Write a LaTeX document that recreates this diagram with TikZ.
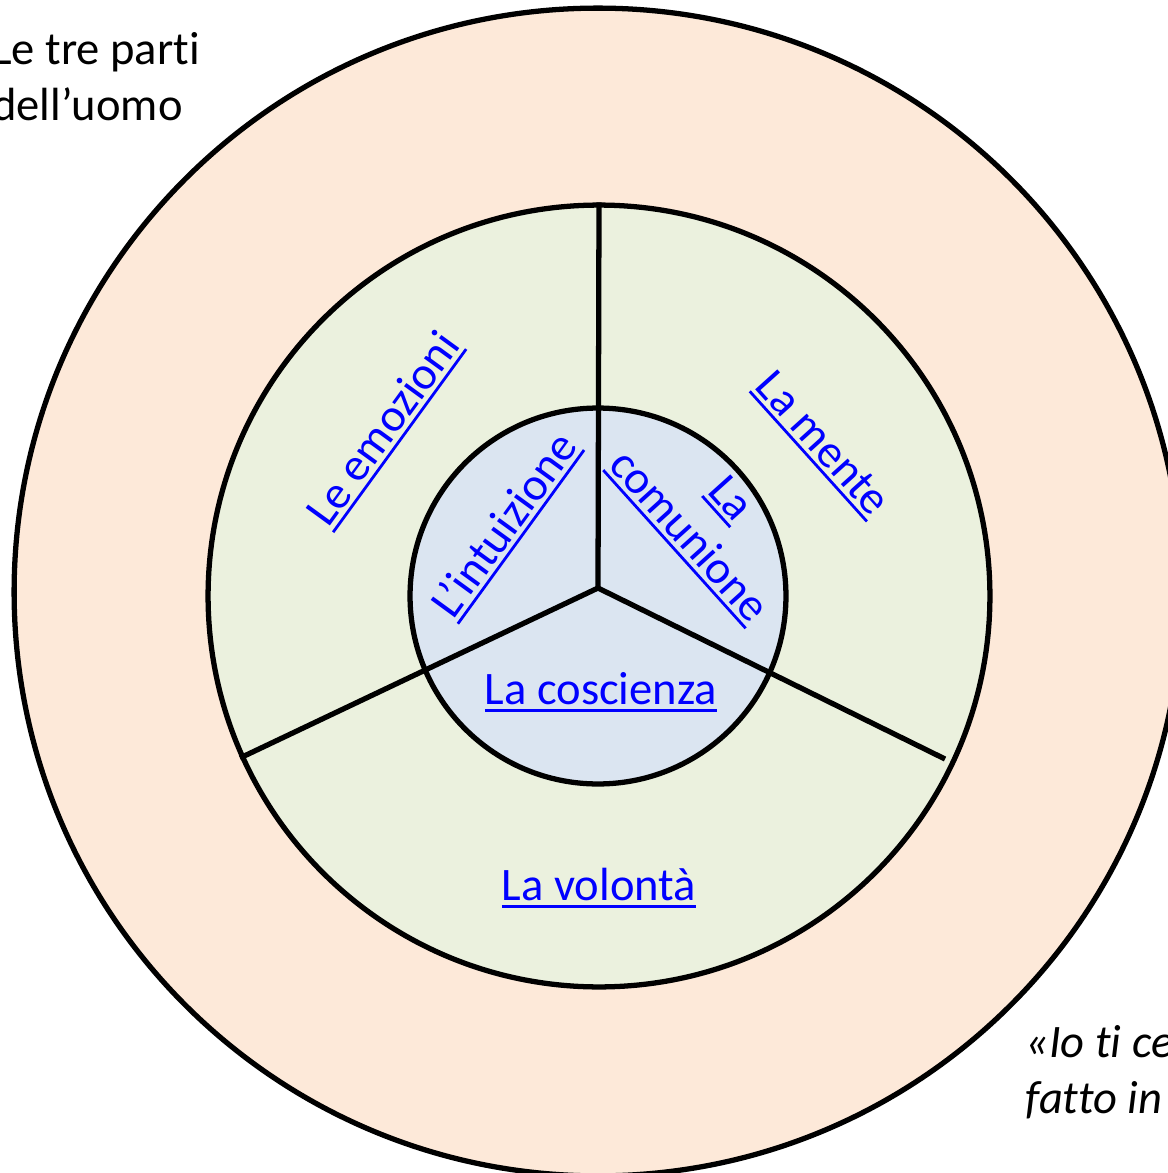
\documentclass[tikz,border=0pt]{standalone}
\usepackage{fontspec}
\setmainfont{Carlito}[Ligatures=NoCommon]
\usetikzlibrary{positioning}
\definecolor{peach}{HTML}{FDE9D9}
\definecolor{sage}{HTML}{EBF1DE}
\definecolor{pale}{HTML}{DBE5F1}
\newcommand{\linked}[1]{\setbox0=\hbox{#1}\rlap{\vrule height -0.09em depth 0.15em width \wd0}\box0}
\tikzset{
  ring/.style={
    circle,
    draw=black,
    line width=3pt,
    inner sep=0pt
  },
  spoke/.style={line width=3pt},
  part/.style={
    text=blue,
    font=\fontsize{26.5}{32}\selectfont,
    align=center,
    inner sep=0pt
  },
  caption/.style={
    font=\fontsize{26.5}{32}\selectfont,
    align=left,
    inner sep=0pt
  }
}

\begin{document}
\begin{tikzpicture}[x=0.02cm, y=-0.02cm]
  \useasboundingbox (0,0) rectangle (1168,1173);
  \clip (0,0) rectangle (1168,1173);
  \node[ring, fill=peach, minimum size=23.36cm] (body) at (598,592) {};
  \node[ring, fill=sage, minimum size=15.64cm] (soul) at (599,596) {};
  \node[ring, fill=pale, minimum size=7.52cm] (spirit) at (598,596) {};
  \coordinate (core) at (598,588);
  \coordinate (spokeleft) at (240,758);
  \coordinate (spokeright) at (945,759);
  \draw[spoke] (core) -- (soul.north);
  \draw[spoke] (core) -- (spokeleft);
  \draw[spoke] (core) -- (spokeright);
  \node[part, rotate=54] (emotions) at (385,430) {\linked{Le emozioni}};
  \node[part, rotate=-48] (mind) at (821,445) {\linked{La mente}};
  \node[part] (will) at (599,888) {\linked{La volontà}};
  \node[part, rotate=54] (intuition) at (506,526) {\linked{L’intuizione}};
  \node[part, rotate=-48] (communion) at (708,519) {\linked{La}\\\linked{comunione}};
  \node[part] (conscience) at (601,692) {\linked{La coscienza}};
  \node[caption, anchor=north west] (title) at (-8,32) {Le tre parti\\dell’uomo};
  \node[caption, anchor=north west, font=\fontsize{26.5}{32}\selectfont\itshape] (verse) at (1025,1025) {«Io ti ce\\fatto in};
\end{tikzpicture}
\end{document}
